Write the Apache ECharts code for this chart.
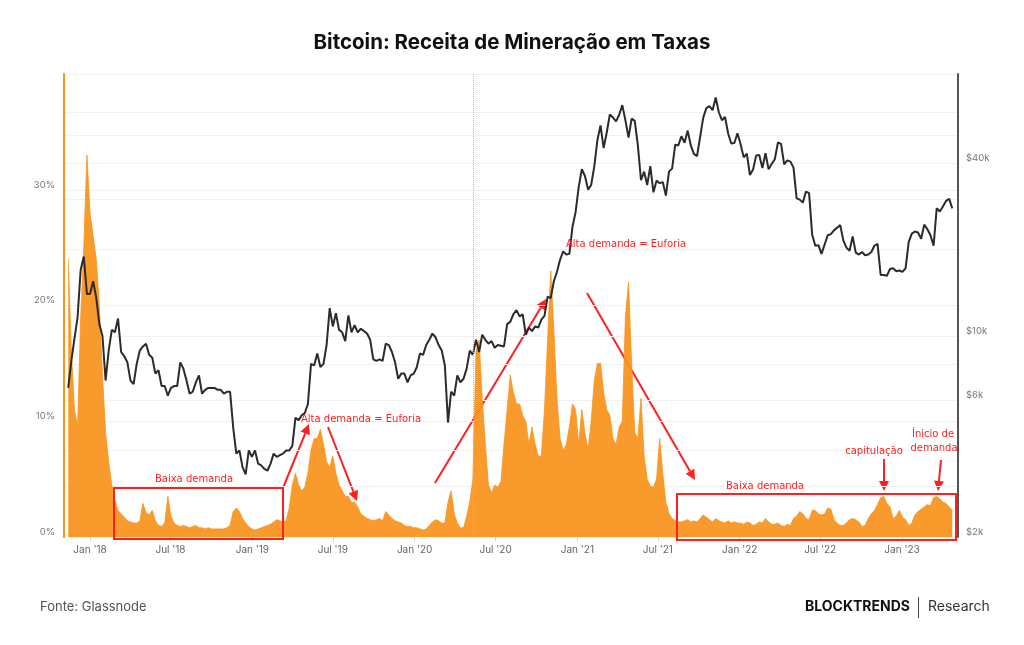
<!DOCTYPE html>
<html>
<head>
<meta charset="utf-8">
<title>Bitcoin: Receita de Mineração em Taxas</title>
<script src="https://cdn.jsdelivr.net/npm/echarts@6/dist/echarts.min.js"></script>
<style>
  html, body { margin: 0; padding: 0; background: #fff; }
  #chart { width: 1024px; height: 645px; }
</style>
</head>
<body>
<div id="chart"></div>
<script>
// valores semanais (segundas-feiras), lidos do gráfico
// receita de taxas, % da receita de mineração
const fee2017 = [24, 16, 11, 9.5, 19, 25, 33]
const fee2018 = [28, 26, 24, 20, 14, 9, 6.5, 4.5, 3.2, 2.3, 2.0, 1.7, 1.4, 1.3, 1.2, 1.2, 1.4, 2.9, 2.1, 1.9,
  2.3, 1.4, 1.0, 0.9, 1.2, 3.5, 1.8, 1.2, 1.0, 0.9, 1.0, 0.9, 0.8, 0.9, 1.0, 0.8, 0.8, 0.7, 0.8, 0.7,
  0.7, 0.7, 0.7, 0.7, 0.8, 1.0, 2.2, 2.5, 2.2, 1.6, 1.2, 0.9, 0.7]
const fee2019 = [0.6, 0.7, 0.8, 0.9, 1.0, 1.1, 1.3, 1.5, 1.4, 1.3, 1.4, 2.5, 4.5, 5.5, 4.5, 4.0, 4.3, 5.5, 7.5, 8.5,
  8.5, 9.3, 8.0, 6.5, 6.0, 7.0, 5.5, 4.5, 4.0, 3.5, 3.5, 3.0, 3.0, 2.6, 2.0, 1.8, 1.6, 1.5, 1.4, 1.5,
  1.6, 1.4, 2.2, 1.9, 1.6, 1.4, 1.3, 1.2, 1.0, 0.9, 0.9, 0.8]
const fee2020 = [0.8, 0.7, 0.6, 0.7, 1.0, 1.3, 1.5, 1.4, 1.2, 1.2, 3.0, 4.0, 2.0, 1.2, 0.8, 0.8, 1.8, 3.0, 5.0, 16,
  17, 12, 8, 4.5, 3.8, 4.5, 4.3, 4.8, 8, 11, 14, 12.5, 11.5, 11.5, 10.5, 10, 8, 9.5, 8, 7,
  7, 11, 17, 23, 18, 12, 8.5, 7.5, 8, 9.5, 11.5, 11]
const fee2021 = [8, 11, 9, 7.5, 10, 13.5, 15, 15, 12.5, 11, 10.5, 8.5, 8, 9.5, 10, 19, 22, 15, 9, 8.5,
  12, 7, 5, 4.4, 4.3, 5, 8.5, 5.5, 3, 2, 1.6, 1.4, 1.3, 1.3, 1.4, 1.5, 1.3, 1.4, 1.3, 1.6,
  1.9, 1.7, 1.5, 1.3, 1.6, 1.4, 1.3, 1.2, 1.4, 1.2, 1.3, 1.2]
const fee2022 = [1.2, 1.1, 1.3, 1.2, 1.0, 1.1, 1.3, 1.2, 1.6, 1.3, 1.1, 1.1, 1.2, 1.0, 0.9, 1.1, 1.0, 1.6, 1.8, 2.2,
  2.0, 1.6, 1.5, 2.3, 2.3, 2.0, 1.9, 2.0, 2.5, 2.4, 1.5, 1.2, 1.0, 1.0, 1.2, 1.5, 1.6, 1.5, 1.3, 0.9,
  1.0, 1.6, 2.0, 2.3, 2.8, 3.4, 3.5, 2.9, 2.6, 1.6, 1.8, 2.3]
const fee2023 = [1.7, 1.5, 1.0, 1.2, 1.9, 2.2, 2.4, 2.6, 2.8, 2.7, 3.4, 3.5, 3.3, 3.0, 2.9, 2.6, 2.3]

// preço do BTC em USD
const price2017 = [6600, 8200, 9800, 11600, 17000, 18900, 14000]
const price2018 = [14000, 15500, 13600, 11000, 10000, 7000, 8900, 10500, 10300, 11500, 8800, 8500, 8100, 7000, 6800, 8000, 8900, 9200, 9400, 8600,
  8400, 7400, 7600, 6700, 6700, 6200, 6600, 6700, 6700, 8100, 7700, 7000, 6300, 6400, 6900, 7300, 6300, 6500, 6600, 6600,
  6600, 6500, 6500, 6300, 6400, 6400, 4800, 3900, 4000, 3500, 3300, 4000, 3800]
const price2019 = [4000, 3600, 3550, 3450, 3400, 3600, 3900, 3800, 3850, 3900, 4000, 4000, 4150, 5200, 5100, 5300, 5400, 5800, 8000, 7900,
  8700, 7800, 8000, 9300, 12500, 10800, 12000, 10500, 10300, 9600, 11800, 10300, 10900, 10300, 10600, 10400, 10200, 9700, 8300, 8200,
  8300, 8200, 9400, 9300, 8800, 8100, 7100, 7400, 7400, 6900, 7300, 7400]
const price2020 = [7800, 8700, 8600, 9300, 9700, 10200, 9900, 9300, 8900, 7900, 5000, 6400, 6200, 7300, 6900, 7100, 7700, 8900, 8600, 9700,
  8800, 10100, 9700, 9400, 9600, 9100, 9300, 9250, 9200, 11000, 11200, 11900, 12300, 11700, 11900, 10100, 10700, 10400, 10800, 10700,
  11400, 11750, 13700, 13550, 15500, 16700, 18400, 19700, 19200, 19300, 24000, 27000]
const price2021 = [33000, 38000, 36000, 32300, 33500, 38900, 48000, 54000, 45000, 51000, 59000, 57500, 55800, 58800, 63500, 56200, 49000, 57000, 56000, 46000,
  34800, 37300, 33500, 39000, 31600, 34700, 34000, 34300, 30800, 37300, 38200, 46300, 46000, 49500, 47000, 51800, 46000, 43000, 42200, 49200,
  57500, 62000, 63000, 61000, 67500, 60000, 56300, 57800, 50600, 46700, 46900, 50700]
const price2022 = [46400, 41800, 43100, 36300, 37900, 42400, 42600, 38400, 43200, 38000, 39700, 41200, 47100, 46600, 39500, 40800, 40400, 38500, 30100, 29800,
  29100, 31800, 31400, 22500, 20600, 20700, 19300, 20800, 22400, 22600, 23300, 23800, 24300, 21500, 20300, 19800, 22200, 19500, 19200, 19600,
  19100, 19200, 19600, 20600, 20900, 16300, 16300, 16200, 17100, 17200, 16800, 16900]
const price2023 = [16700, 17200, 21200, 22700, 23100, 22900, 21800, 24400, 23500, 22400, 20600, 27800, 27100, 28200, 29500, 30000, 27800]

// primeira segunda-feira de cada bloco
const weekStarts = ['2017-11-13', '2018-01-01', '2019-01-07', '2020-01-06', '2021-01-04', '2022-01-03', '2023-01-02']

// rótulos dos eixos
const xTickDates = ['2018-01-01', '2018-07-01', '2019-01-01', '2019-07-01', '2020-01-01', '2020-07-01',
  '2021-01-01', '2021-07-01', '2022-01-01', '2022-07-01', '2023-01-01']
const feeTicks = [0, 10, 20, 30]
const priceTicks = [2000, 6000, 10000, 40000]
const priceGrid = [3000, 4000, 6000, 8000, 10000, 20000, 30000, 40000, 50000, 60000]
const halvingDate = '2020-05-11'

const DAY = 86400000
const utc = s => Date.parse(s + 'T00:00:00Z')

function weekly (blocks) {
  let out = []
  blocks.forEach((vals, b) => {
    const t0 = utc(weekStarts[b])
    vals.forEach((v, i) => out.push([t0 + i * 7 * DAY, v]))
  })
  return out
}

const feeData = weekly([fee2017, fee2018, fee2019, fee2020, fee2021, fee2022, fee2023])
const priceData = weekly([price2017, price2018, price2019, price2020, price2021, price2022, price2023])

const orange = '#f7931a'
const red = '#ff1f1f'
const font = 'Inter'

// anotações em vermelho
function box (x, y, w, h) {
  return { type: 'rect', shape: { x, y, width: w, height: h }, style: { fill: 'none', stroke: red, lineWidth: 2 }, z: 100 }
}
function note (x, y, text) {
  return { type: 'text', x, y, style: { text, fill: red, font: '10px "DejaVu Sans"', align: 'center', verticalAlign: 'middle' }, z: 100 }
}
function arrow (x1, y1, x2, y2) {
  const len = Math.hypot(x2 - x1, y2 - y1)
  const dx = (x2 - x1) / len
  const dy = (y2 - y1) / len
  const bx = x2 - dx * 10
  const by = y2 - dy * 10
  return {
    type: 'group',
    z: 100,
    children: [
      { type: 'line', shape: { x1, y1, x2: bx, y2: by }, style: { stroke: red, lineWidth: 2 } },
      { type: 'polygon', shape: { points: [[x2, y2], [bx - dy * 5, by + dx * 5], [bx + dy * 5, by - dx * 5]] }, style: { fill: red } }
    ]
  }
}

const chart = echarts.init(document.getElementById('chart'))
chart.setOption({
  animation: false,
  backgroundColor: '#fff',
  textStyle: { fontFamily: font },
  title: {
    text: 'Bitcoin: Receita de Mineração em Taxas',
    left: 'center',
    top: 27,
    textStyle: { fontFamily: font, fontWeight: 'bold', fontSize: 20.5, color: '#111' }
  },
  grid: { left: 64, right: 66, top: 74, bottom: 108 },
  xAxis: {
    type: 'value',
    min: utc('2017-11-03') + DAY / 2,
    max: utc('2023-05-06') + DAY * 0.9,
    axisLine: { show: false },
    axisTick: { show: true, length: 4, lineStyle: { color: '#ccc' }, customValues: xTickDates.map(utc) },
    axisLabel: {
      customValues: xTickDates.map(utc),
      color: '#666',
      fontSize: 10,
      margin: 8,
      formatter: v => {
        const d = new Date(v)
        return (d.getUTCMonth() === 0 ? 'Jan' : 'Jul') + " '" + String(d.getUTCFullYear()).slice(2)
      }
    },
    splitLine: { show: false }
  },
  yAxis: [
    {
      type: 'value',
      position: 'left',
      min: 0,
      max: 40,
      interval: 10,
      axisLine: { show: true, lineStyle: { color: orange, width: 2 } },
      axisTick: { show: false },
      axisLabel: { customValues: feeTicks, formatter: '{value}%', color: '#777', fontSize: 9.5, margin: 9, verticalAlign: 'bottom' },
      splitLine: { lineStyle: { color: '#f1f1f1' } }
    },
    {
      type: 'log',
      logBase: 10,
      position: 'right',
      min: 2000,
      max: 81500,
      axisLine: { show: true, lineStyle: { color: '#555', width: 2 } },
      axisTick: { show: false, customValues: priceGrid },
      axisLabel: {
        customValues: priceTicks,
        color: '#777',
        fontSize: 9.5,
        margin: 8,
        verticalAlign: 'bottom',
        formatter: v => '$' + Math.round(v / 1000) + 'k'
      },
      splitLine: { show: true, lineStyle: { color: '#f1f1f1' } }
    }
  ],
  series: [
    {
      name: 'Taxas',
      type: 'line',
      yAxisIndex: 0,
      data: feeData,
      showSymbol: false,
      lineStyle: { color: orange, width: 0.8 },
      areaStyle: { color: orange, opacity: 0.92 },
      z: 2,
      markLine: {
        silent: true,
        symbol: ['none', 'none'],
        label: { show: false },
        lineStyle: { color: '#b5b5b5', type: 'dotted', width: 1 },
        data: [{ xAxis: utc(halvingDate) }]
      }
    },
    {
      name: 'Preço',
      type: 'line',
      yAxisIndex: 1,
      data: priceData,
      showSymbol: false,
      lineStyle: { color: '#2b2b2b', width: 2 },
      z: 3
    }
  ],
  graphic: [
    box(114, 488, 169, 51),
    note(194, 479, 'Baixa demanda'),
    arrow(283, 488, 309, 424),
    note(361, 419, 'Alta demanda = Euforia'),
    arrow(328, 427, 357, 501),
    arrow(435, 483, 546, 299),
    note(626, 244, 'Alta demanda = Euforia'),
    arrow(587, 293, 695, 480),
    box(677, 494, 279, 46),
    note(765, 486, 'Baixa demanda'),
    note(874, 451, 'capitulação'),
    arrow(884, 459, 884, 491),
    note(933, 434, 'Ínicio de'),
    note(934, 448, 'demanda'),
    arrow(941, 460, 938, 491),
    { type: 'text', x: 40, y: 607, style: { text: 'Fonte: Glassnode', fill: '#555', font: '13px Inter', align: 'left', verticalAlign: 'middle' } },
    { type: 'text', x: 910, y: 607, style: { text: 'BLOCKTRENDS', fill: '#111', font: 'bold 14px Inter', align: 'right', verticalAlign: 'middle' } },
    { type: 'line', shape: { x1: 918.5, y1: 597, x2: 918.5, y2: 618 }, style: { stroke: '#444', lineWidth: 1 } },
    { type: 'text', x: 928, y: 607, style: { text: 'Research', fill: '#333', font: '14px Inter', align: 'left', verticalAlign: 'middle' } }
  ]
})
</script>
</body>
</html>
